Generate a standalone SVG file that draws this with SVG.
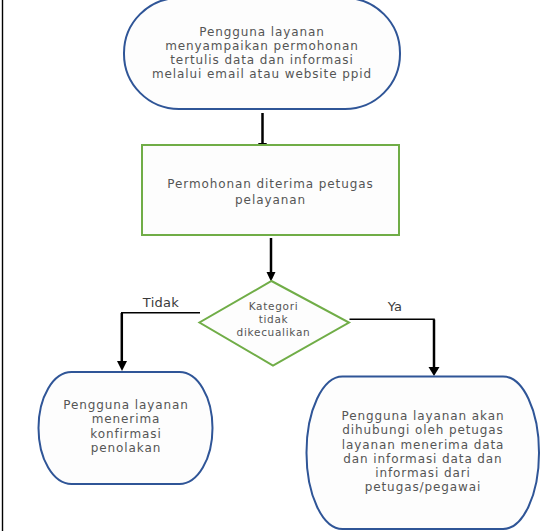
<svg xmlns="http://www.w3.org/2000/svg" width="549" height="531" viewBox="0 0 549 531">
<style>
  .t { font-family: "DejaVu Sans", "Open Sans", sans-serif; font-size: 12px; letter-spacing: 0.9px; fill: #555555; text-anchor: middle; }
  .s { font-size: 10.5px; letter-spacing: 0.7px; }
  .term { fill: #fdfdfd; stroke: #2f5597; stroke-width: 2; }
  .proc { fill: #fdfdfd; stroke: #70ad47; stroke-width: 2; }
  .conn { fill: none; stroke: #000; }
  .lbl { font-family: "DejaVu Sans", "Open Sans", sans-serif; font-size: 13px; letter-spacing: 0.3px; fill: #3a3a3a; text-anchor: middle; }
</style>
<rect x="0" y="0" width="549" height="531" fill="#ffffff"/>
<line x1="2.5" y1="0" x2="2.5" y2="531" stroke="#000" stroke-width="1.4"/>

<g id="connectors">
  <line class="conn" x1="262.5" y1="113" x2="262.5" y2="145" stroke-width="2.5"/>
  <polygon points="258,143 267,143 262.5,150" fill="#000"/>
  <line class="conn" x1="271" y1="238" x2="271" y2="274" stroke-width="2.5"/>
  <polygon points="266.5,272 275.5,272 271,281.5" fill="#000"/>
  <polyline class="conn" points="200,312.7 121.8,312.7 121.8,362" stroke-width="1.6"/>
  <line class="conn" x1="121.8" y1="313" x2="121.8" y2="362" stroke-width="2.5"/>
  <polygon points="117,361 127,361 122,371" fill="#000"/>
  <text class="lbl" x="161" y="306.5">Tidak</text>
  <polyline class="conn" points="349.5,319.3 434,319.3 434,368" stroke-width="1.6"/>
  <line class="conn" x1="434" y1="319.5" x2="434" y2="368" stroke-width="2.5"/>
  <polygon points="428.5,367 439.5,367 434,376" fill="#000"/>
  <text class="lbl" x="395" y="311">Ya</text>
</g>

<g id="node-start">
  <rect class="term" x="124" y="-2" width="276" height="111" rx="55" ry="55"/>
  <text class="t" x="262" y="35.5">Pengguna layanan</text>
  <text class="t" x="262" y="49.7">menyampaikan permohonan</text>
  <text class="t" x="262" y="63.9">tertulis data dan informasi</text>
  <text class="t" x="262" y="78.1">melalui email atau website ppid</text>
</g>

<g id="node-terima">
  <rect class="proc" x="142" y="145" width="257" height="90"/>
  <text class="t" x="270.5" y="187.5">Permohonan diterima petugas</text>
  <text class="t" x="270.5" y="203.5">pelayanan</text>
</g>

<g id="node-kategori">
  <polygon class="proc" points="271.5,281 349,322.5 273,365.5 199.5,322.5"/>
  <text class="t s" x="273.5" y="309.8">Kategori</text>
  <text class="t s" x="273.5" y="323">tidak</text>
  <text class="t s" x="273.5" y="335.5">dikecualikan</text>
</g>

<g id="node-tolak">
  <rect class="term" x="38.5" y="372" width="174" height="112" rx="33" ry="56"/>
  <text class="t" x="126" y="408.8">Pengguna layanan</text>
  <text class="t" x="126" y="423.3">menerima</text>
  <text class="t" x="126" y="437.8">konfirmasi</text>
  <text class="t" x="126" y="452.3">penolakan</text>
</g>

<g id="node-terima-data">
  <rect class="term" x="306.5" y="376.5" width="232.5" height="152.5" rx="36" ry="76"/>
  <text class="t" x="423" y="420.3">Pengguna layanan akan</text>
  <text class="t" x="423" y="434.4">dihubungi oleh petugas</text>
  <text class="t" x="423" y="448.5">layanan menerima data</text>
  <text class="t" x="423" y="462.6">dan informasi data dan</text>
  <text class="t" x="423" y="476.7">informasi dari</text>
  <text class="t" x="423" y="490.8">petugas/pegawai</text>
</g>
</svg>
